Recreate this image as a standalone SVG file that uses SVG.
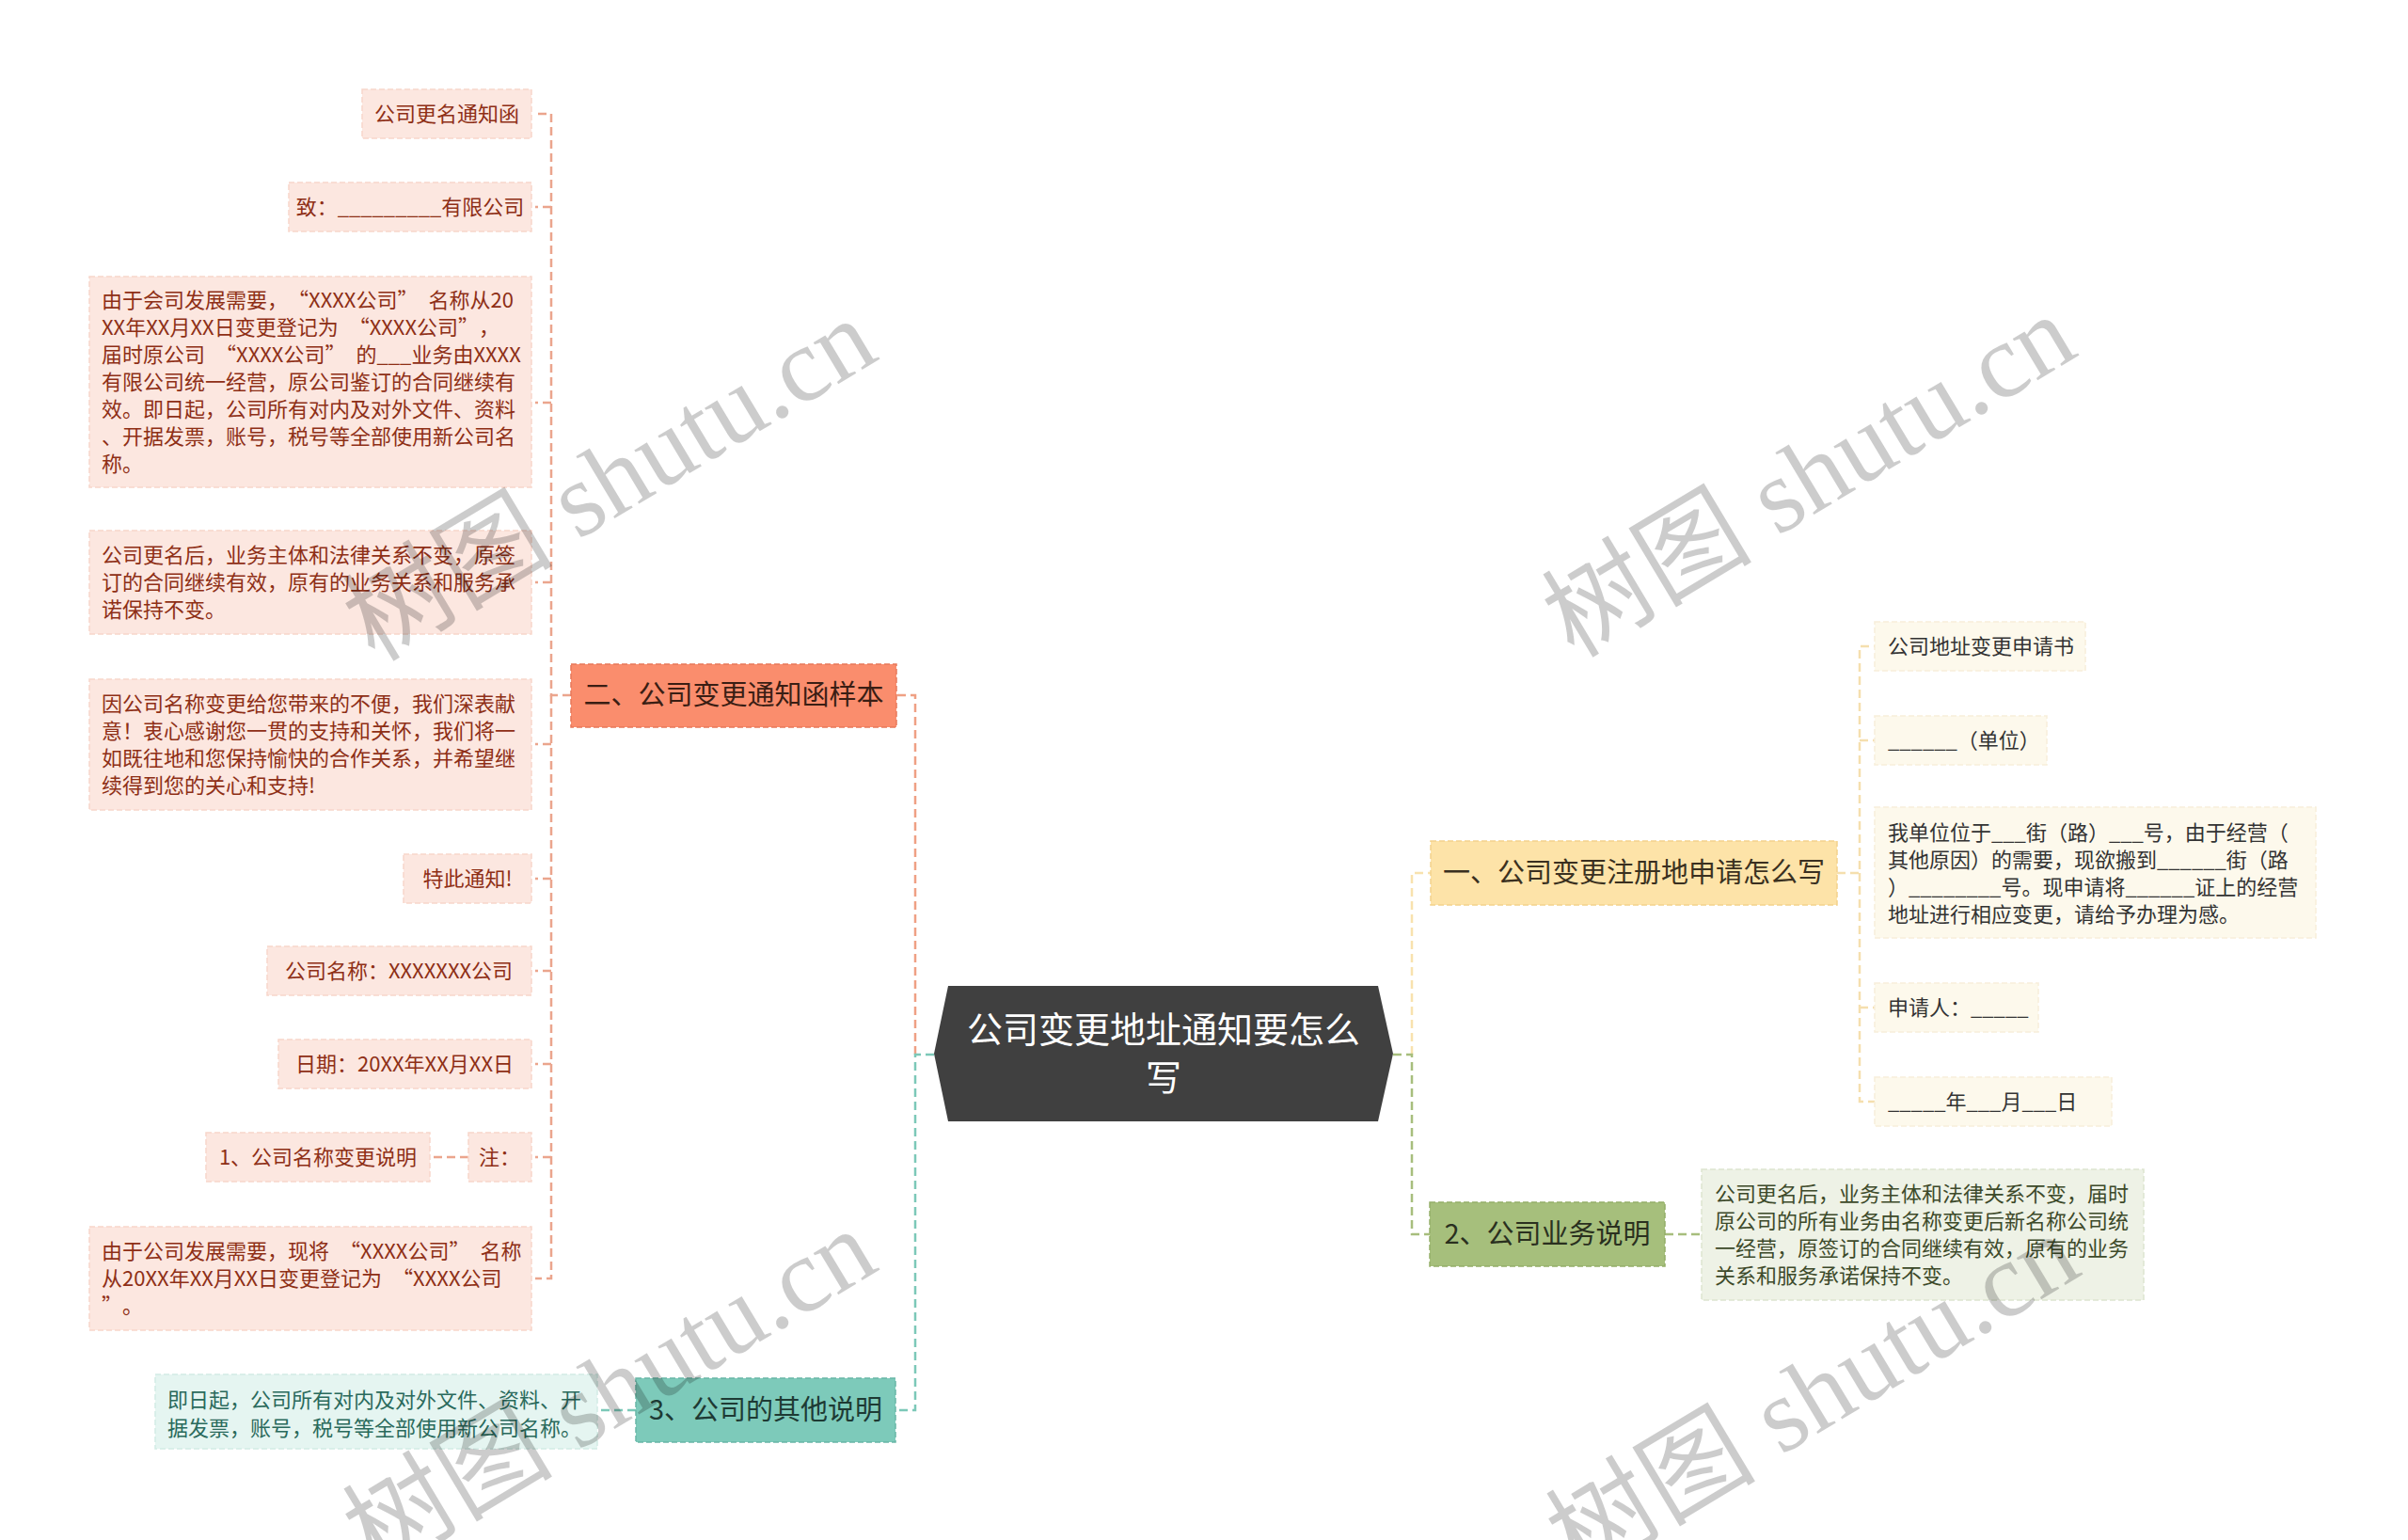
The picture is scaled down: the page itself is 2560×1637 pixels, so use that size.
<svg xmlns="http://www.w3.org/2000/svg" width="2560" height="1637" viewBox="0 0 2560 1637">
<style>
text{font-family:"Noto Sans CJK SC","Noto Sans",sans-serif;}
.t22{font-size:22px;}
.t29{font-size:29px;}
.pk{fill:#FCE7E0;stroke:#F8D6CA;stroke-width:1.5;stroke-dasharray:6 3;}
.pkt{fill:#8E2F16;}
.cr{fill:#FDF9EC;stroke:#F7EEDA;stroke-width:1.5;stroke-dasharray:6 3;}
.crt{fill:#333333;}
.gc{fill:#EEF2E6;stroke:#DDE5D0;stroke-width:1.5;stroke-dasharray:6 3;}
.gct{fill:#3D4A2A;}
.tc{fill:#E5F5F1;stroke:#D2ECE5;stroke-width:1.5;stroke-dasharray:6 3;}
.tct{fill:#2A6A5C;}
.conn{fill:none;stroke-width:2.5;stroke-dasharray:9 5;}
.wm{font-family:"Liberation Serif","Noto Sans CJK SC",serif;font-size:112px;fill:#000;fill-opacity:0.2;}
</style>

<g id="connectors">
  <path class="conn" stroke="#EFA084" d="M973 1121 V739 H953"/>
  <path class="conn" stroke="#7CC8B8" d="M993 1121 H973 V1499 H952"/>
  <path class="conn" stroke="#F8E2AE" d="M1501 1121 V928 H1521"/>
  <path class="conn" stroke="#A7BE7D" d="M1481 1121 H1501 V1312 H1520"/>
  <g stroke="#EBA58D" class="conn" fill="none">
    <path d="M607 739 H586 V121 H569"/>
    <path d="M586 220 H569"/>
    <path d="M586 428 H569"/>
    <path d="M586 619 H569"/>
    <path d="M586 791 H569"/>
    <path d="M586 934 H569"/>
    <path d="M586 1032 H569"/>
    <path d="M586 1131 H569"/>
    <path d="M586 1230 H569"/>
    <path d="M586 739 V1359 H569"/>
    <path d="M498 1230 H457"/>
  </g>
  <g stroke="#F5DFAE" class="conn" fill="none">
    <path d="M1953 928 H1977 V687 H1993"/>
    <path d="M1977 787 H1993"/>
    <path d="M1977 928 V1171 H1993"/>
    <path d="M1977 1071 H1993"/>
  </g>
  <path class="conn" stroke="#A7BE7D" d="M1770 1312 H1809"/>
  <path class="conn" stroke="#7CC8B8" d="M676 1499 H635"/>
</g>

<g id="center">
  <polygon points="993,1120 1008,1048 1465,1048 1481,1120 1465,1192 1008,1192" fill="#404040"/>
  <text x="1237" y="1108" text-anchor="middle" font-size="38" fill="#FFFFFF">公司变更地址通知要怎么</text>
  <text x="1237" y="1159" text-anchor="middle" font-size="38" fill="#FFFFFF">写</text>
</g>

<g id="n-er">
  <rect x="607" y="706" width="346" height="67" fill="#FA8D6D" stroke="#E8785A" stroke-width="1.5" stroke-dasharray="6 3"/>
  <text class="t29" x="780" y="749" text-anchor="middle" fill="#3A1E14">二、公司变更通知函样本</text>
</g>
<g id="n-yi">
  <rect x="1521" y="894" width="432" height="68" fill="#FDE3A8" stroke="#F3D28C" stroke-width="1.5" stroke-dasharray="6 3"/>
  <text class="t29" x="1737" y="938" text-anchor="middle" fill="#3A3020">一、公司变更注册地申请怎么写</text>
</g>
<g id="n-2">
  <rect x="1520" y="1278" width="250" height="68" fill="#A6BF7C" stroke="#94AE68" stroke-width="1.5" stroke-dasharray="6 3"/>
  <text class="t29" x="1645" y="1322" text-anchor="middle" fill="#2A301F">2、公司业务说明</text>
</g>
<g id="n-3">
  <rect x="676" y="1465" width="276" height="68" fill="#7DCABA" stroke="#68B7A6" stroke-width="1.5" stroke-dasharray="6 3"/>
  <text class="t29" x="814" y="1509" text-anchor="middle" fill="#1E3A34">3、公司的其他说明</text>
</g>

<g id="l1"><rect class="pk" x="385" y="95" width="180" height="52"/><text class="t22 pkt" x="475" y="129" text-anchor="middle">公司更名通知函</text></g>
<g id="l2"><rect class="pk" x="307" y="194" width="258" height="52"/><text class="t22 pkt" x="436" y="228" text-anchor="middle">致：_________有限公司</text></g>
<g id="l3"><rect class="pk" x="95" y="294" width="470" height="224"/>
  <text class="t22 pkt">
    <tspan x="108" y="327">由于会司发展需要，<tspan dx="11">“</tspan>XXXX公司”<tspan dx="11">名</tspan>称从20</tspan>
    <tspan x="108" y="356">XX年XX月XX日变更登记为<tspan dx="11">“</tspan>XXXX公司”<tspan dx="11">，</tspan></tspan>
    <tspan x="108" y="385">届时原公司<tspan dx="11">“</tspan>XXXX公司”<tspan dx="11">的</tspan>___业务由XXXX</tspan>
    <tspan x="108" y="414">有限公司统一经营，原公司鉴订的合同继续有</tspan>
    <tspan x="108" y="443">效。即日起，公司所有对内及对外文件、资料</tspan>
    <tspan x="108" y="472">、开据发票，账号，税号等全部使用新公司名</tspan>
    <tspan x="108" y="501">称。</tspan>
  </text></g>
<g id="l4"><rect class="pk" x="95" y="564" width="470" height="110"/>
  <text class="t22 pkt">
    <tspan x="108" y="598">公司更名后，业务主体和法律关系不变，原签</tspan>
    <tspan x="108" y="627">订的合同继续有效，原有的业务关系和服务承</tspan>
    <tspan x="108" y="656">诺保持不变。</tspan>
  </text></g>
<g id="l5"><rect class="pk" x="95" y="722" width="470" height="139"/>
  <text class="t22 pkt">
    <tspan x="108" y="756">因公司名称变更给您带来的不便，我们深表献</tspan>
    <tspan x="108" y="785">意！衷心感谢您一贯的支持和关怀，我们将一</tspan>
    <tspan x="108" y="814">如既往地和您保持愉快的合作关系，并希望继</tspan>
    <tspan x="108" y="843">续得到您的关心和支持!</tspan>
  </text></g>
<g id="l6"><rect class="pk" x="429" y="908" width="136" height="52"/><text class="t22 pkt" x="497" y="942" text-anchor="middle">特此通知!</text></g>
<g id="l7"><rect class="pk" x="284" y="1006" width="281" height="52"/><text class="t22 pkt" x="424" y="1040" text-anchor="middle">公司名称：XXXXXXX公司</text></g>
<g id="l8"><rect class="pk" x="296" y="1105" width="269" height="52"/><text class="t22 pkt" x="430" y="1139" text-anchor="middle">日期：20XX年XX月XX日</text></g>
<g id="l9"><rect class="pk" x="498" y="1204" width="67" height="52"/><text class="t22 pkt" x="531" y="1238" text-anchor="middle">注：</text></g>
<g id="l10"><rect class="pk" x="219" y="1204" width="238" height="52"/><text class="t22 pkt" x="338" y="1238" text-anchor="middle">1、公司名称变更说明</text></g>
<g id="l11"><rect class="pk" x="95" y="1304" width="470" height="110"/>
  <text class="t22 pkt">
    <tspan x="108" y="1338">由于公司发展需要，现将<tspan dx="11">“</tspan>XXXX公司”<tspan dx="11">名</tspan>称</tspan>
    <tspan x="108" y="1367">从20XX年XX月XX日变更登记为<tspan dx="11">“</tspan>XXXX公司</tspan>
    <tspan x="108" y="1396">”<tspan dx="11">。</tspan></tspan>
  </text></g>

<g id="r1"><rect class="cr" x="1993" y="661" width="224" height="52"/><text class="t22 crt" x="2007" y="695">公司地址变更申请书</text></g>
<g id="r2"><rect class="cr" x="1993" y="761" width="183" height="52"/><text class="t22 crt" x="2007" y="795">______（单位）</text></g>
<g id="r3"><rect class="cr" x="1993" y="858" width="469" height="139"/>
  <text class="t22 crt">
    <tspan x="2007" y="893">我单位位于___街（路）___号，由于经营（</tspan>
    <tspan x="2007" y="922">其他原因）的需要，现欲搬到______街（路</tspan>
    <tspan x="2007" y="951">）________号。现申请将______证上的经营</tspan>
    <tspan x="2007" y="980">地址进行相应变更，请给予办理为感。</tspan>
  </text></g>
<g id="r4"><rect class="cr" x="1993" y="1045" width="174" height="52"/><text class="t22 crt" x="2007" y="1079">申请人：_____</text></g>
<g id="r5"><rect class="cr" x="1993" y="1145" width="252" height="52"/><text class="t22 crt" x="2007" y="1179">_____年___月___日</text></g>

<g id="g1"><rect class="gc" x="1809" y="1243" width="470" height="139"/>
  <text class="t22 gct">
    <tspan x="1823" y="1277">公司更名后，业务主体和法律关系不变，届时</tspan>
    <tspan x="1823" y="1306">原公司的所有业务由名称变更后新名称公司统</tspan>
    <tspan x="1823" y="1335">一经营，原签订的合同继续有效，原有的业务</tspan>
    <tspan x="1823" y="1364">关系和服务承诺保持不变。</tspan>
  </text></g>

<g id="t1"><rect class="tc" x="165" y="1461" width="470" height="79"/>
  <text class="t22 tct">
    <tspan x="178" y="1496">即日起，公司所有对内及对外文件、资料、开</tspan>
    <tspan x="178" y="1526">据发票，账号，税号等全部使用新公司名称。</tspan>
  </text></g>

<g id="watermarks">
  <text class="wm" transform="translate(648 510) rotate(-31)" text-anchor="middle" y="38">树图 shutu.cn</text>
  <text class="wm" transform="translate(1923 506) rotate(-31)" text-anchor="middle" y="38">树图 shutu.cn</text>
  <text class="wm" transform="translate(648 1478) rotate(-31)" text-anchor="middle" y="38">树图 shutu.cn</text>
  <text class="wm" transform="translate(1927 1483) rotate(-31)" text-anchor="middle" y="38">树图 shutu.cn</text>
</g>
</svg>
